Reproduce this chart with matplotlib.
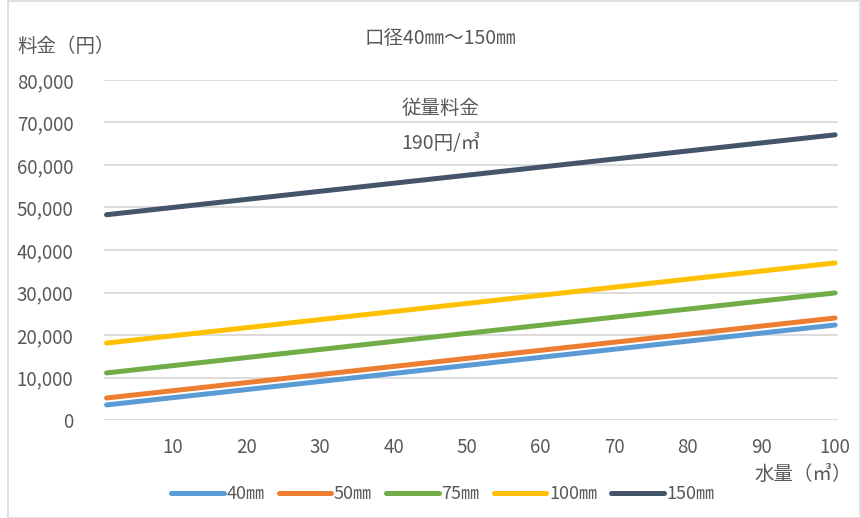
import matplotlib
matplotlib.use("Agg")
import matplotlib.pyplot as plt
from matplotlib.ticker import FuncFormatter, FixedLocator
from matplotlib.patches import Rectangle

plt.rcParams['font.family'] = ['Noto Sans CJK JP', 'DejaVu Sans']

# data
x_vals = [1, 100]
series_names = ['40㎜', '50㎜', '75㎜', '100㎜', '150㎜']
s40 = [3550, 22350]
s50 = [5180, 24000]
s75 = [11080, 29900]
s100 = [18100, 36950]
s150 = [48300, 67100]
x_ticks = [10, 20, 30, 40, 50, 60, 70, 80, 90, 100]
y_ticks = [0, 10000, 20000, 30000, 40000, 50000, 60000, 70000, 80000]

colors = ['#5B9BD5', '#ED7D31', '#70AD47', '#FFC000', '#44546A']
text_color = '#595959'

W, H = 861, 518
fig = plt.figure(figsize=(W / 100, H / 100), dpi=100)
ax = fig.add_axes([104 / W, 98 / H, (838 - 104) / W, (420 - 80) / H])

for vals, name, c in zip([s40, s50, s75, s100, s150], series_names, colors):
    ax.plot(x_vals, vals, color=c, lw=3.6, solid_capstyle='round', label=name, zorder=3)

ax.set_xlim(0.65, 100.4)
ax.set_ylim(0, 80000)
ax.yaxis.set_major_locator(FixedLocator(y_ticks))
ax.xaxis.set_major_locator(FixedLocator(x_ticks))
ax.yaxis.set_major_formatter(FuncFormatter(lambda v, p: f'{int(v):,}'))
ax.grid(axis='y', color='#D9D9D9', lw=1.3, zorder=0)
for sp in ax.spines.values():
    sp.set_visible(False)
ax.tick_params(axis='both', length=0, labelsize=13.5, labelcolor=text_color)
ax.tick_params(axis='y', pad=22)
ax.tick_params(axis='x', pad=12)

# texts
fig.text(440 / W, 1 - 38 / H, '口径40㎜～150㎜', ha='center', va='center', fontsize=14, color=text_color)
fig.text(17 / W, 1 - 47 / H, '料金（円）', ha='left', va='center', fontsize=14, color=text_color)
fig.text(441 / W, 1 - 108 / H, '従量料金', ha='center', va='center', fontsize=14, color=text_color)
fig.text(441 / W, 1 - 143 / H, '190円/㎥', ha='center', va='center', fontsize=14, color=text_color)
fig.text(852 / W, 1 - 474 / H, '水量（㎥）', ha='right', va='center', fontsize=14, color=text_color)

leg = fig.legend(loc='center', bbox_to_anchor=(443 / W, 1 - 494 / H), ncol=5, frameon=False,
                 fontsize=13, handlelength=2.9, handletextpad=0.15, columnspacing=0.8)
for t in leg.get_texts():
    t.set_color(text_color)

# chart border
fig.patches.append(Rectangle((8 / W, 0), 1 - 8 / W - 1 / W, 1 - 1 / H, transform=fig.transFigure,
                             fill=False, edgecolor='#D9D9D9', lw=1.2))

fig.savefig('out.png', dpi=100)
